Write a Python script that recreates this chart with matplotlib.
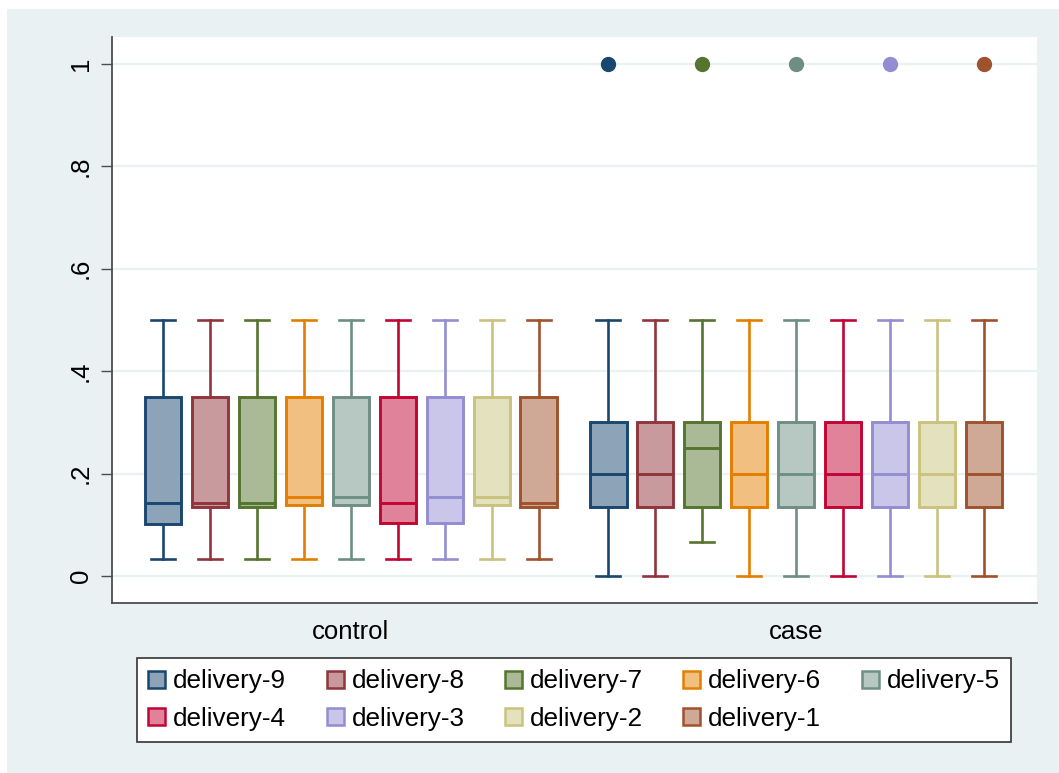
import matplotlib
matplotlib.use("Agg")
import matplotlib.pyplot as plt
from matplotlib.patches import Patch, Rectangle
from matplotlib.colors import to_rgb

plt.rcParams['font.family'] = ['Liberation Sans', 'DejaVu Sans']

# Series (delivery-9 ... delivery-1)
labels = ['delivery-9', 'delivery-8', 'delivery-7', 'delivery-6', 'delivery-5',
          'delivery-4', 'delivery-3', 'delivery-2', 'delivery-1']
colors = ['#1a476f', '#90353b', '#55752f', '#e37e00', '#6e8e84',
          '#c10534', '#938dd2', '#cac27e', '#a0522d']
groups = ['control', 'case']

# control group box stats
ctrl_q1 = [0.101, 0.135, 0.135, 0.139, 0.139, 0.104, 0.104, 0.139, 0.135]
ctrl_med = [0.143, 0.143, 0.143, 0.155, 0.155, 0.143, 0.155, 0.155, 0.143]
ctrl_q3 = [0.35, 0.35, 0.35, 0.35, 0.35, 0.35, 0.35, 0.35, 0.35]
ctrl_lo = [0.034, 0.034, 0.034, 0.034, 0.034, 0.034, 0.034, 0.034, 0.034]
ctrl_hi = [0.5, 0.5, 0.5, 0.5, 0.5, 0.5, 0.5, 0.5, 0.5]
ctrl_out = [[], [], [], [], [], [], [], [], []]

# case group box stats
case_q1 = [0.134, 0.134, 0.134, 0.134, 0.134, 0.134, 0.134, 0.134, 0.134]
case_med = [0.2, 0.2, 0.25, 0.2, 0.2, 0.2, 0.2, 0.2, 0.2]
case_q3 = [0.3, 0.3, 0.3, 0.3, 0.3, 0.3, 0.3, 0.3, 0.3]
case_lo = [0.0, 0.0, 0.067, 0.0, 0.0, 0.0, 0.0, 0.0, 0.0]
case_hi = [0.5, 0.5, 0.5, 0.5, 0.5, 0.5, 0.5, 0.5, 0.5]
case_out = [[1.0], [], [1.0], [], [1.0], [], [1.0], [], [1.0]]

yticks = [0, 0.2, 0.4, 0.6, 0.8, 1]
yticklabels = ['0', '.2', '.4', '.6', '.8', '1']

bg = '#eaf1f3'
axis_col = '#4d4d4d'


def lighten(c, a=0.5):
    r, g, b = to_rgb(c)
    return (1 - a + a * r, 1 - a + a * g, 1 - a + a * b)


fig = plt.figure(figsize=(10.59, 7.73), dpi=100)
fig.patch.set_facecolor('white')
fig.patches.append(Rectangle((7 / 1059, 0), 1 - 7 / 1059, 1 - 9 / 773,
                             transform=fig.transFigure, facecolor=bg,
                             edgecolor='none', zorder=-10))

ax = fig.add_axes([112 / 1059, 1 - 603 / 773, (1037 - 112) / 1059, (603 - 37) / 773])
ax.set_facecolor('white')

n = len(labels)
gap = 70 / 47  # distance between last control box and first case box
all_stats = [
    (ctrl_q1, ctrl_med, ctrl_q3, ctrl_lo, ctrl_hi, ctrl_out, 0.0),
    (case_q1, case_med, case_q3, case_lo, case_hi, case_out, n - 1 + gap),
]
centers = []
for q1, med, q3, lo, hi, out, start in all_stats:
    pos = [start + i for i in range(n)]
    centers.append(sum(pos) / n)
    for i in range(n):
        st = [dict(q1=q1[i], med=med[i], q3=q3[i], whislo=lo[i], whishi=hi[i],
                   fliers=out[i])]
        c = colors[i]
        ax.bxp(st, positions=[pos[i]], widths=0.77, capwidths=0.51,
               patch_artist=True, manage_ticks=False,
               boxprops=dict(facecolor=lighten(c), edgecolor=c, linewidth=2.1),
               medianprops=dict(color=c, linewidth=2.1),
               whiskerprops=dict(color=c, linewidth=1.9),
               capprops=dict(color=c, linewidth=1.9),
               flierprops=dict(marker='o', markerfacecolor=c, markeredgecolor=c,
                               markersize=10))

ax.set_xlim(-51 / 47, 2 * n - 2 + gap + 53 / 47)
ax.set_ylim(-0.0527, 1.0527)

ax.set_yticks(yticks)
ax.set_yticklabels(yticklabels, rotation=90, va='center')
ax.yaxis.grid(True, color=bg, linewidth=1.6)
ax.set_axisbelow(True)
ax.tick_params(axis='y', length=8, width=1.0, color=axis_col, pad=6, labelsize=18.5)

ax.set_xticks(centers)
ax.set_xticklabels(groups)
ax.tick_params(axis='x', length=0, pad=12, labelsize=18.5)

for s in ['top', 'right']:
    ax.spines[s].set_visible(False)
for s in ['left', 'bottom']:
    ax.spines[s].set_color(axis_col)
    ax.spines[s].set_linewidth(1.3)

# legend, row-major order across 5 columns
handles = [Patch(facecolor=lighten(c), edgecolor=c, linewidth=1.8) for c in colors]
order = [0, 5, 1, 6, 2, 7, 3, 8, 4]
leg = fig.legend([handles[i] for i in order], [labels[i] for i in order],
                 ncol=5, loc='center', bbox_to_anchor=(574 / 1059, 1 - 700 / 773),
                 fontsize=18.8, frameon=True, fancybox=False, framealpha=1,
                 handlelength=0.65, handleheight=0.65, handletextpad=0.3,
                 columnspacing=1.55, labelspacing=0.5, borderpad=0.45)
leg.get_frame().set_edgecolor('#333333')
leg.get_frame().set_linewidth(1.2)
leg.get_frame().set_facecolor('white')

fig.savefig('out.png', dpi=100, facecolor=fig.get_facecolor())
